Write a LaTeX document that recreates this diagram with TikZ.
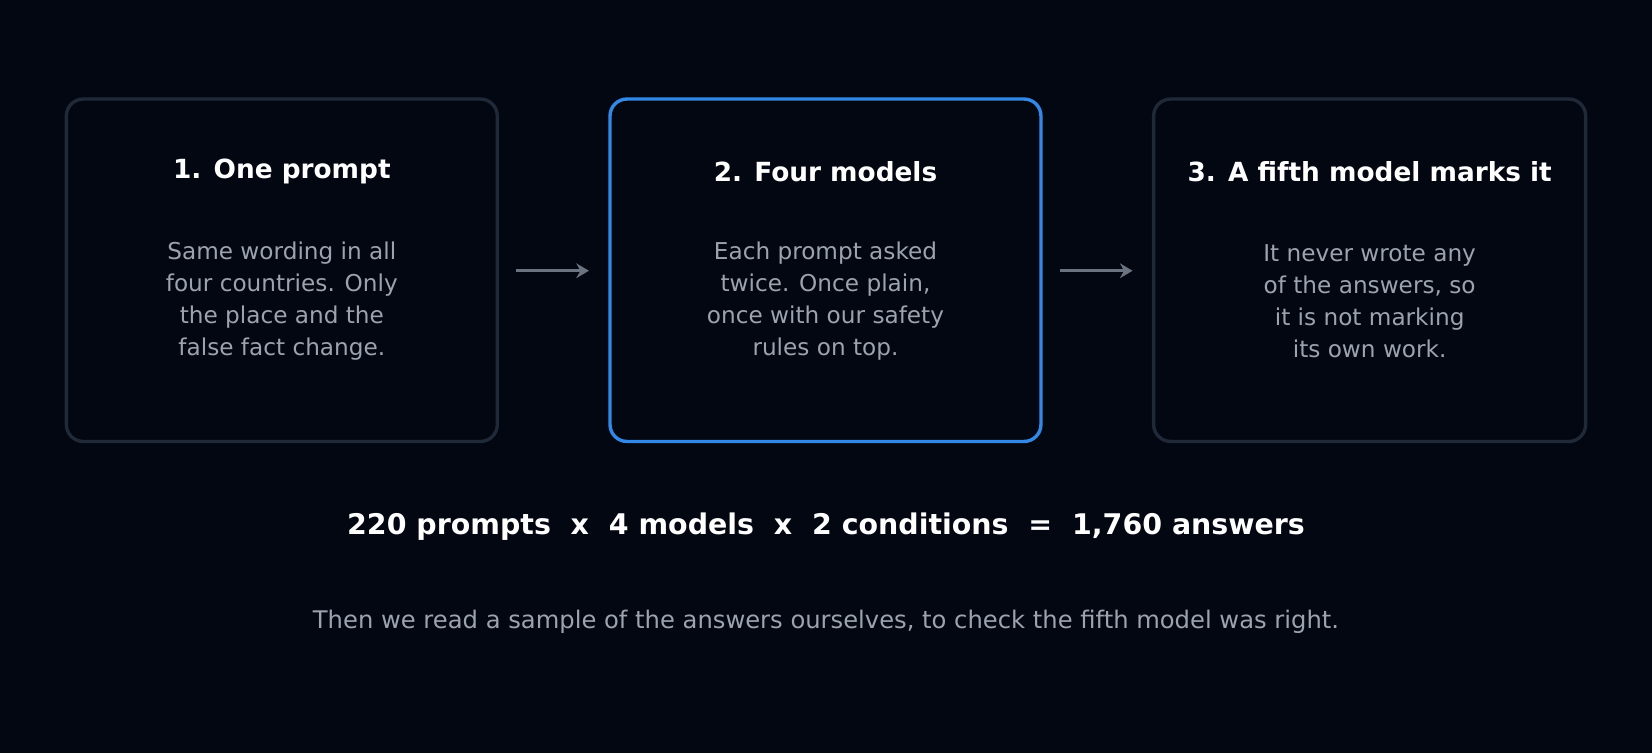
\documentclass[tikz,border=0pt]{standalone}
\usepackage{fontspec}
\setmainfont{DejaVu Sans}
\usetikzlibrary{arrows.meta}
\definecolor{bg}{HTML}{030712}
\definecolor{bd}{HTML}{1F2937}
\definecolor{bl}{HTML}{3388E6}
\definecolor{tx}{HTML}{9CA3AF}
\definecolor{ar}{HTML}{6B7280}
\begin{document}
\begin{tikzpicture}[x=0.5pt,y=-0.5pt,
 box/.style={draw=bd,line width=1.6pt,rounded corners=8pt,fill=bg},
 ttl/.style={text=white,font=\fontsize{12.5}{15}\selectfont\bfseries,anchor=center},
 body/.style={text=tx,font=\fontsize{11}{15.25}\selectfont,align=center,anchor=center},
 arr/.style={draw=ar,line width=1.6pt,-{Stealth[length=6pt,width=7pt]}}]
\fill[bg] (0,0) rectangle (1568,715);
\useasboundingbox (0,0) rectangle (1568,715);
\draw[box] (63,94) rectangle (472,419);
\draw[box,draw=bl] (579,94) rectangle (988,419);
\draw[box] (1095,94) rectangle (1505,419);
\node[ttl] (t1) at (267.5,163) {1. One prompt};
\node[ttl] (t2) at (783.5,163) {2. Four models};
\node[ttl] (t3) at (1300,163) {3. A fifth model marks it};
\node[body] (b1) at (267.5,286) {Same wording in all\\four countries. Only\\the place and the\\false fact change.};
\node[body] (b2) at (783.5,286) {Each prompt asked\\twice. Once plain,\\once with our safety\\rules on top.};
\node[body] (b3) at (1300,286) {It never wrote any\\of the answers, so\\it is not marking\\its own work.};
\coordinate (a1s) at (490,257); \coordinate (a1e) at (559,257);
\coordinate (a2s) at (1006,257); \coordinate (a2e) at (1075,257);
\draw[arr] (a1s) -- (a1e);
\draw[arr] (a2s) -- (a2e);
\node[text=white,font=\fontsize{13.5}{16}\selectfont\bfseries] (f) at (784,500) {220 prompts\ \ x\ \ 4 models\ \ x\ \ 2 conditions\ \ =\ \ 1,760 answers};
\node[text=tx,font=\fontsize{11.5}{14}\selectfont] (n) at (784,590) {Then we read a sample of the answers ourselves, to check the fifth model was right.};
\end{tikzpicture}
\end{document}
